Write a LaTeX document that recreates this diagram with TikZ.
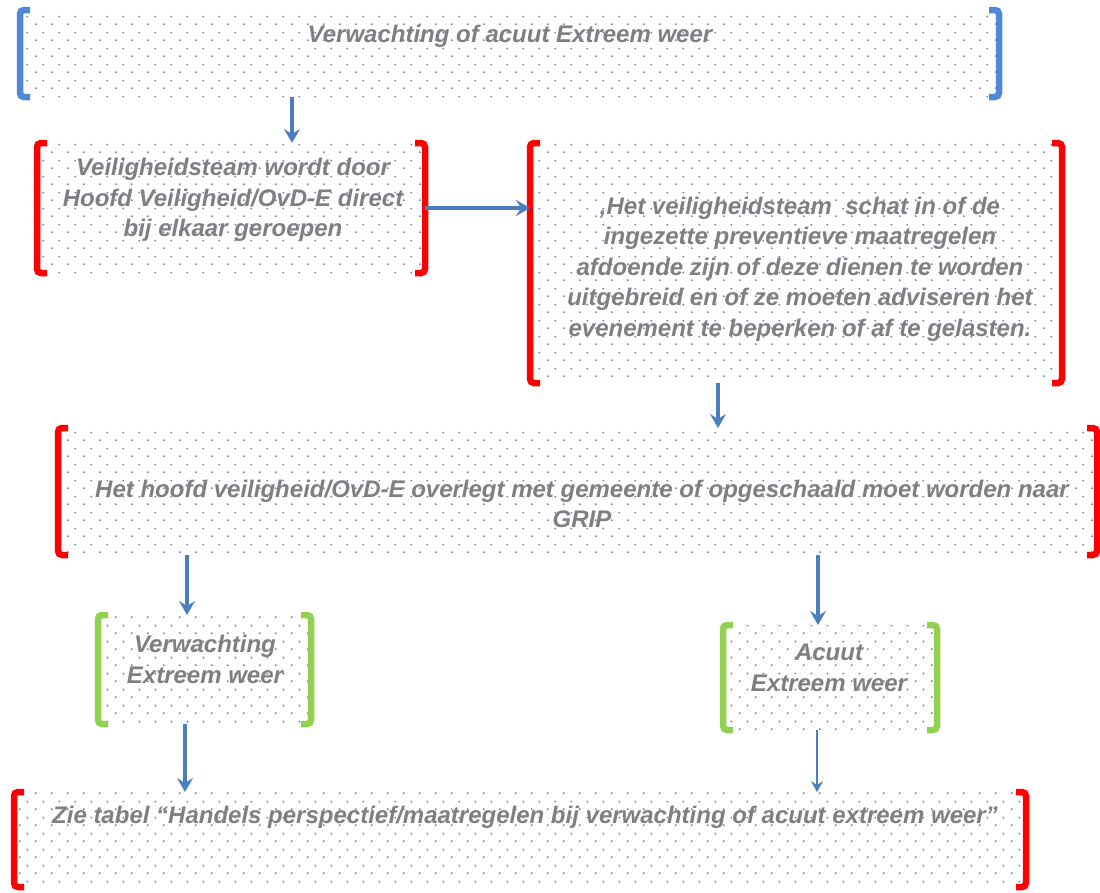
\documentclass[tikz,border=0pt]{standalone}
\usepackage{fontspec}
\setmainfont{Liberation Sans}
\usetikzlibrary{patterns,arrows.meta}
\definecolor{dotblue}{HTML}{5585D4}
\definecolor{wxblue}{HTML}{4F88D8}
\definecolor{alarmred}{HTML}{FF0000}
\definecolor{leafgreen}{HTML}{92D050}
\definecolor{arrowblue}{HTML}{4A7EBF}
\definecolor{textgray}{HTML}{7F7F7F}
%% staggered grid of small dots, as in the reference fill
\pgfdeclarepatternformonly{bluedots}{\pgfqpoint{0pt}{0pt}}{\pgfqpoint{16pt}{16pt}}{\pgfqpoint{16pt}{16pt}}{%
  \pgfpathcircle{\pgfqpoint{4pt}{4pt}}{1.1pt}%
  \pgfpathcircle{\pgfqpoint{12pt}{12pt}}{1.1pt}%
  \pgfusepath{fill}}
\begin{document}
\begin{tikzpicture}
[x=1pt, y=-1pt,
  boxdecorate/.style={shape=rectangle,inner sep=0pt,outer sep=0pt,pattern=bluedots,pattern color=dotblue},%
  bracketdecorate/.style={line width=6.5pt,rounded corners=4pt},%
  textdecorate/.style={text=textgray,align=center,inner sep=0pt,font=\bfseries\itshape\fontsize{24}{30.5}\selectfont},%
  arrowdecorate/.style={-{Stealth[length=14pt,width=16pt,inset=5pt]},line width=3.4pt,draw=arrowblue},%
  thinarrowdecorate/.style={-{Stealth[length=11pt,width=12pt,inset=4pt]},line width=2pt,draw=arrowblue}]
\useasboundingbox (0,0) rectangle (1100,892);
%% dotted boxes
\foreach \boxname/\x/\y/\w/\h in {wx/509.5/53.5/979/87, team/231/208/388/130,
    assess/796/263/532/240, overleg/577.5/491.5/1039/127,
    verw/204.5/669.5/213/109, acuut/830/677.5/214/105, tabel/520/839.5/1012/95} {
  \node (\boxname) at (\x,\y) [boxdecorate,minimum width=\w pt,minimum height=\h pt] {};
}
%% brackets on the left and right of each box
\foreach \boxname/\boxcolor in {wx/wxblue, team/alarmred, assess/alarmred, overleg/alarmred,
    verw/leafgreen, acuut/leafgreen, tabel/alarmred} {
  \draw[bracketdecorate,draw=\boxcolor] ([xshift=10pt]\boxname.north west) -- (\boxname.north west)
    -- (\boxname.south west) -- ([xshift=10pt]\boxname.south west);
  \draw[bracketdecorate,draw=\boxcolor] ([xshift=-10pt]\boxname.north east) -- (\boxname.north east)
    -- (\boxname.south east) -- ([xshift=-10pt]\boxname.south east);
}
%% texts
\node (wxtext) at (510,36) [textdecorate] {Verwachting of acuut Extreem weer};
\node (teamtext) at (233,200) [textdecorate] {Veiligheidsteam wordt door\\Hoofd Veiligheid/OvD-E direct\\bij elkaar geroepen};
\node (assesstext) at (800,269) [textdecorate] {,Het veiligheidsteam\ \ schat in of de\\ingezette preventieve maatregelen\\afdoende zijn of deze dienen te worden\\uitgebreid en of ze moeten adviseren het\\evenement te beperken of af te gelasten.};
\node (overlegtext) at (582,504) [textdecorate] {Het hoofd veiligheid/OvD-E overlegt met gemeente of opgeschaald moet worden naar\\GRIP};
\node (verwtext) at (205,659.5) [textdecorate] {Verwachting\\Extreem weer};
\node (acuuttext) at (829,668) [textdecorate] {Acuut\\Extreem weer};
\node (tabeltext) at (525,817) [textdecorate] {Zie tabel \textquotedblleft Handels perspectief/maatregelen bij verwachting of acuut extreem weer\textquotedblright};
%% columns of the vertical arrows
\foreach \colname/\x in {colA/292, colB/718, colC/187, colD/818, colE/185, colF/817} {
  \coordinate (\colname) at (\x,0);
}
%% arrows
\draw[arrowdecorate] (wx.south -| colA) -- (team.north -| colA);
\draw[arrowdecorate] (team.east) -- (assess.west |- team.east);
\draw[arrowdecorate] (assess.south -| colB) -- (overleg.north -| colB);
\draw[arrowdecorate] (overleg.south -| colC) -- (verw.north -| colC);
\draw[arrowdecorate] (overleg.south -| colD) -- (acuut.north -| colD);
\draw[arrowdecorate] (verw.south -| colE) -- (tabel.north -| colE);
\draw[thinarrowdecorate] (acuut.south -| colF) -- (tabel.north -| colF);
\end{tikzpicture}
\end{document}
